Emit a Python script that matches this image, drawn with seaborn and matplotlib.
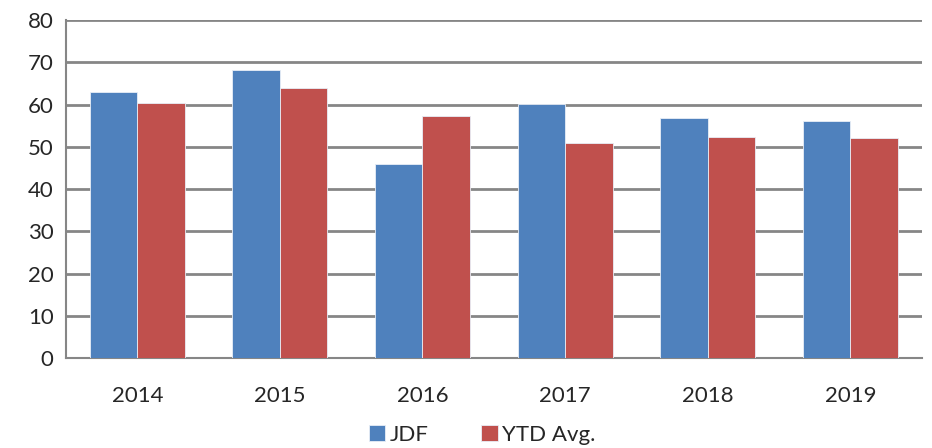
import numpy as np
import pandas as pd
import matplotlib
matplotlib.use("Agg")
import matplotlib.pyplot as plt
import seaborn as sns
from matplotlib.ticker import FixedLocator

years = ["2014", "2015", "2016", "2017", "2018", "2019"]
jdf = [63.0, 68.1, 46.0, 60.2, 56.9, 56.0]
ytd_avg = [60.4, 64.0, 57.3, 50.8, 52.4, 52.2]
series = ["JDF", "YTD Avg."]
colors = ["#4F81BD", "#C0504D"]

df = pd.DataFrame({
    "year": years * 2,
    "value": jdf + ytd_avg,
    "series": [series[0]] * len(years) + [series[1]] * len(years),
})

sns.set_style("white")
plt.rcParams["font.family"] = ["Lato", "DejaVu Sans"]

fig = plt.figure(figsize=(9.32, 4.48), dpi=100)
ax = fig.add_axes([0.0708, 0.201, 0.918, 0.754])

sns.barplot(data=df, x="year", y="value", hue="series", palette=colors,
            width=0.667, dodge=True, edgecolor="#e8eef7", linewidth=0.6,
            saturation=1, ax=ax, legend=True, zorder=3)

ax.set_ylim(0, 80)
ax.set_xlim(-0.5, len(years) - 0.5)
ax.set_yticks(np.arange(0, 81, 10))
ax.yaxis.grid(True, color="#868686", linewidth=2, zorder=0)
ax.set_axisbelow(True)
ax.set_xlabel("")
ax.set_ylabel("")

for s in ["top", "right"]:
    ax.spines[s].set_visible(False)
for s in ["left", "bottom"]:
    ax.spines[s].set_color("#868686")
    ax.spines[s].set_linewidth(1.5)

ax.xaxis.set_minor_locator(FixedLocator(np.arange(-0.5, len(years), 1.0)))
ax.tick_params(axis="x", which="major", length=0, labelsize=16, pad=20)
ax.tick_params(axis="x", which="minor", length=7, width=1.2, color="#868686", direction="out")
ax.tick_params(axis="y", length=5, width=1.2, color="#868686", direction="out", labelsize=16, pad=4)

handles, labels = ax.get_legend_handles_labels()
ax.legend(handles, labels, loc="center", bbox_to_anchor=(0.4865, -0.228),
          ncol=2, frameon=False, fontsize=16, handlelength=0.75, handleheight=0.75,
          handletextpad=0.2, columnspacing=2.37, borderpad=0.1)

fig.savefig("out.png", dpi=100)
